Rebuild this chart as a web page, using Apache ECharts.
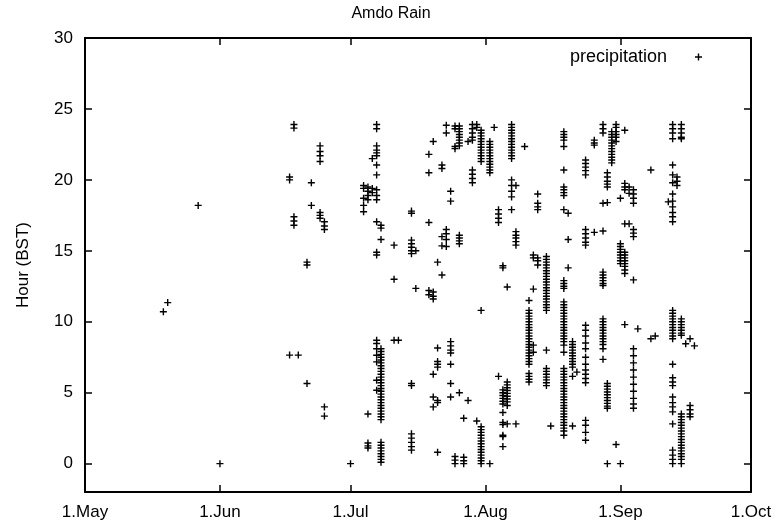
<!DOCTYPE html>
<html>
<head>
<meta charset="utf-8">
<script src="https://cdn.jsdelivr.net/npm/echarts@6/dist/echarts.min.js"></script>
<style>
  html, body { margin: 0; padding: 0; background: #fff; }
  #chart { width: 782px; height: 527px; }
</style>
</head>
<body>
<div id="chart"></div>
<script>
const year = "2006";
const xStart = "2006-05-01";
const xEnd = "2006-10-01";
const monthLabels = ["1.Jan", "1.Feb", "1.Mar", "1.Apr", "1.May", "1.Jun", "1.Jul", "1.Aug", "1.Sep", "1.Oct", "1.Nov", "1.Dec"];

// day of rain (MM-DD) and the hours (BST) it was recorded on that day
const days = [
  "05-19", "05-20", "05-27", "06-01", "06-17", "06-18", "06-19", "06-21", "06-22", "06-24",
  "06-25", "07-01", "07-04", "07-05", "07-06", "07-07", "07-08", "07-11", "07-12", "07-15",
  "07-16", "07-19", "07-20", "07-21", "07-22", "07-23", "07-24", "07-25", "07-26", "07-27",
  "07-28", "07-29", "07-30", "07-31", "08-02", "08-03", "08-04", "08-05", "08-06", "08-07",
  "08-08", "08-10", "08-11", "08-12", "08-13", "08-15", "08-16", "08-19", "08-20", "08-21",
  "08-22", "08-24", "08-26", "08-28", "08-29", "08-30", "08-31", "09-01", "09-02", "09-03",
  "09-04", "09-05", "09-08", "09-09", "09-12", "09-13", "09-14", "09-15", "09-16", "09-17",
  "09-18"
];

const hours = [
  [10.7],
  [11.35],
  [18.2],
  [0],
  [20.2, 20.0, 7.65],
  [23.9, 23.65, 17.4, 17.1, 16.8],
  [7.65],
  [14.2, 14.0, 5.65],
  [19.8, 18.2],
  [22.4, 22.0, 21.7, 21.3, 17.7, 17.5, 17.3],
  [17.05, 16.75, 16.5, 4.0, 3.35],
  [0],
  [19.6, 19.4, 18.7, 18.2, 17.75],
  [19.5, 19.2, 18.9, 18.6, 3.5, 1.45, 1.25, 1.1],
  [19.4, 19.1, 21.5],
  [23.9, 23.6, 22.4, 22.1, 21.9, 21.7, 21.05, 20.35, 19.3, 18.9, 18.6, 17.05, 14.9, 14.7,
   8.7, 8.47, 8.1, 7.64, 7.17, 5.88, 5.17],
  [16.8, 16.6, 15.8, 8.1, 7.9, 7.7, 7.5, 7.3, 7.1, 6.9, 6.7, 6.5, 6.3, 6.1, 5.9, 5.7, 5.5,
   5.3, 5.1, 4.9, 4.7, 4.5, 4.3, 4.1, 3.9, 3.7, 3.5, 3.3, 3.1, 1.5, 1.3, 1.1, 0.9, 0.7,
   0.5, 0.3, 0.1],
  [15.4, 13.0, 8.7],
  [8.7],
  [17.8, 17.65, 15.75, 15.5, 15.25, 15.0, 14.8, 5.65, 5.5, 2.1, 1.8, 1.5, 1.2, 0.95],
  [15.0, 12.35],
  [21.8, 20.5, 17.0, 12.2, 11.9],
  [22.7, 12.1, 11.8, 11.6, 6.3, 4.7, 4.0],
  [14.2, 8.15, 7.2, 7.0, 6.8, 4.45, 4.3, 0.8],
  [21.05, 20.8, 16.0, 15.35, 13.3],
  [23.85, 23.3, 16.5, 16.2, 15.8, 15.3],
  [19.2, 18.5, 8.6, 8.3, 8.0, 7.8, 7.0, 5.65, 4.7],
  [23.8, 23.6, 22.35, 22.2, 0.5, 0.25, 0.0],
  [23.8, 23.6, 23.4, 23.2, 23.0, 22.8, 22.6, 22.4, 16.1, 15.9, 15.7, 15.5, 5.0],
  [3.2, 0.45, 0.2, 0.0],
  [22.7, 4.45],
  [23.9, 23.6, 23.3, 23.0, 22.8, 20.7, 20.4, 20.1, 19.8],
  [23.9, 23.7, 3.0],
  [23.5, 23.3, 23.1, 22.9, 22.7, 22.5, 22.3, 22.1, 21.9, 21.7, 21.5, 21.3, 10.8, 2.6, 2.4,
   2.2, 2.0, 1.8, 1.6, 1.4, 1.2, 1.0, 0.8, 0.6, 0.4, 0.2, 0.0],
  [22.7, 22.5, 22.3, 22.1, 21.9, 21.7, 21.5, 21.3, 21.1, 20.9, 20.7, 20.5, 0.0],
  [23.7],
  [17.9, 17.6, 17.3, 17.0, 6.15],
  [13.95, 13.8, 5.2, 5.0, 4.8, 4.6, 4.4, 4.2, 3.6, 2.9, 2.75, 2.0, 1.9, 1.2],
  [12.45, 5.75, 5.55, 5.35, 5.15, 4.95, 4.75, 4.55, 4.35, 4.1, 2.8],
  [23.9, 23.7, 23.5, 23.3, 23.1, 22.9, 22.7, 22.5, 22.3, 22.1, 21.9, 21.7, 21.5, 20.0, 19.6,
   19.2, 18.8, 17.9],
  [19.6, 16.35, 16.1, 15.9, 15.65, 15.4, 2.8],
  [22.35],
  [11.5, 10.8, 10.6, 10.4, 10.2, 10.0, 9.8, 9.6, 9.4, 9.2, 9.0, 8.8, 8.6, 8.4, 8.2, 8.0, 7.8,
   7.6, 7.4, 7.2, 7.0, 6.35, 6.15, 5.95, 5.75],
  [14.7, 14.5, 12.3, 8.35, 7.85],
  [19.0, 18.35, 18.1, 17.9, 14.5, 14.3, 14.0],
  [14.6, 14.4, 14.2, 14.0, 13.8, 13.6, 13.4, 13.2, 13.0, 12.8, 12.6, 12.4, 12.2, 12.0, 11.8,
   11.6, 11.4, 11.2, 11.0, 10.8, 8.0, 6.7, 6.5, 6.3, 6.1, 5.9, 5.7, 5.5],
  [2.65],
  [23.4, 23.2, 23.0, 22.8, 22.35, 20.7, 19.5, 19.3, 19.1, 18.9, 17.9, 12.9, 12.7, 12.5, 12.35,
   11.4, 11.2, 11.0, 10.8, 10.6, 10.4, 10.2, 10.0, 9.8, 9.6, 9.4, 9.2, 9.0, 8.8, 8.6, 8.35,
   7.85, 6.7, 6.5, 6.3, 6.1, 5.9, 5.7, 5.5, 5.3, 5.1, 4.9, 4.7, 4.5, 4.3, 4.1, 3.9, 3.7, 3.5,
   3.3, 3.1, 2.9, 2.7, 2.5, 2.3, 2.0],
  [17.65, 15.8, 13.8],
  [8.6, 8.4, 8.2, 8.0, 7.8, 7.6, 7.4, 7.2, 7.0, 6.8, 6.15, 2.65],
  [6.45],
  [21.4, 21.15, 20.9, 20.65, 20.35, 16.5, 16.2, 15.9, 15.6, 15.4, 9.75, 9.4, 9.0, 8.5, 8.1,
   7.5, 7.0, 6.6, 6.3, 6.0, 5.7, 3.05, 2.7, 2.2, 1.65],
  [22.8, 22.6, 22.45, 16.3],
  [23.9, 23.6, 23.3, 18.35, 16.4, 13.5, 13.3, 13.1, 12.9, 12.7, 12.55, 10.2, 10.0, 9.8, 9.6,
   9.4, 9.2, 9.0, 8.8, 8.6, 8.4, 8.1, 7.35],
  [20.5, 20.2, 19.9, 19.7, 19.5, 18.4, 5.65, 5.45, 5.25, 5.05, 4.85, 4.65, 4.45, 4.25, 4.05,
   3.9, 0.0],
  [23.4, 23.2, 23.0, 22.8, 22.6, 22.4, 22.2, 22.0, 21.8, 21.6, 21.4, 21.2],
  [23.9, 23.7, 23.4, 23.2, 23.0, 22.7, 1.35],
  [18.7, 15.5, 15.3, 15.1, 14.9, 14.7, 14.5, 14.3, 14.1, 0.0],
  [23.5, 19.75, 19.5, 19.3, 16.9, 14.9, 14.7, 14.5, 14.3, 14.1, 13.9, 13.65, 13.4, 9.8],
  [19.5, 19.05, 16.9],
  [19.3, 19.0, 18.7, 18.35, 16.5, 16.25, 16.0, 12.95, 8.1, 7.6, 7.1, 6.6, 6.1, 5.6, 5.1, 4.6,
   4.2, 3.9],
  [9.5],
  [20.7, 8.8],
  [9.0],
  [18.45],
  [23.9, 23.6, 23.3, 22.9, 21.05, 20.35, 19.8, 19.0, 18.5, 18.1, 17.7, 17.4, 17.05, 10.8,
   10.6, 10.4, 10.2, 10.0, 9.8, 9.6, 9.4, 9.2, 9.0, 8.8, 7.0, 6.05, 5.75, 5.5, 4.7, 4.3, 4.0,
   3.65, 2.8, 0.95, 0.6, 0.3, 0.0],
  [20.2, 19.9, 19.6],
  [23.9, 23.6, 23.3, 23.0, 22.9, 10.2, 10.0, 9.8, 9.6, 9.4, 9.2, 9.05, 3.5, 3.3, 3.1, 2.9,
   2.7, 2.5, 2.3, 2.1, 1.9, 1.7, 1.5, 1.3, 1.1, 0.9, 0.7, 0.5, 0.3, 0.0],
  [8.45],
  [4.1, 3.8, 3.5, 3.3, 8.8],
  [8.3]
];

const points = days.flatMap((d, i) => hours[i].map((h) => [`${year}-${d}`, h]));

const plus = "path://M2.8,0H4.2V2.8H7V4.2H4.2V7H2.8V4.2H0V2.8H2.8Z";
const font = "'Liberation Sans', Arial, sans-serif";
const black = "#000";

function frameAxis(extra) {
  return {
    axisLine: { show: true, onZero: false, lineStyle: { color: black, width: 2 } },
    axisTick: { show: true, inside: true, length: 7, lineStyle: { color: black, width: 1.5 } },
    splitLine: { show: false },
    ...extra,
  };
}

const chart = echarts.init(document.getElementById("chart"), null, { renderer: "canvas" });

chart.setOption({
  animation: false,
  backgroundColor: "#fff",
  title: {
    text: "Amdo Rain",
    left: "center",
    top: 1,
    textStyle: { fontFamily: font, fontSize: 16, fontWeight: "normal", color: black },
  },
  legend: {
    data: ["precipitation"],
    right: 75,
    top: 43,
    align: "right",
    icon: plus,
    itemWidth: 7,
    itemHeight: 7,
    textStyle: { fontFamily: font, fontSize: 18, color: black, padding: [0, 23, 0, 0] },
  },
  grid: { left: 85, right: 31, top: 38, bottom: 35, outerBoundsMode: "none" },
  xAxis: [
    frameAxis({
      type: "time",
      min: xStart,
      max: xEnd,
      splitNumber: 5,
      minInterval: 28 * 86400000,
      axisLabel: {
        fontFamily: font,
        fontSize: 17,
        color: black,
        margin: 12,
        showMinLabel: true,
        showMaxLabel: true,
        hideOverlap: false,
        formatter: (v) => monthLabels[new Date(v).getMonth()],
      },
    }),
    frameAxis({
      type: "time",
      position: "top",
      min: xStart,
      max: xEnd,
      splitNumber: 5,
      minInterval: 28 * 86400000,
      axisLabel: { show: false },
    }),
  ],
  yAxis: [
    frameAxis({
      type: "value",
      min: -2,
      max: 30,
      splitNumber: 6,
      name: "Hour (BST)",
      nameLocation: "middle",
      nameGap: 53,
      nameRotate: 90,
      nameTextStyle: { fontFamily: font, fontSize: 17, color: black },
      axisLabel: { fontFamily: font, fontSize: 17, color: black, margin: 12, showMinLabel: false },
    }),
    frameAxis({
      type: "value",
      position: "right",
      min: -2,
      max: 30,
      splitNumber: 6,
      axisLabel: { show: false },
    }),
  ],
  series: [
    {
      name: "precipitation",
      type: "scatter",
      symbol: plus,
      symbolSize: 7,
      itemStyle: { color: black, opacity: 1 },
      data: points,
    },
  ],
});
</script>
</body>
</html>
